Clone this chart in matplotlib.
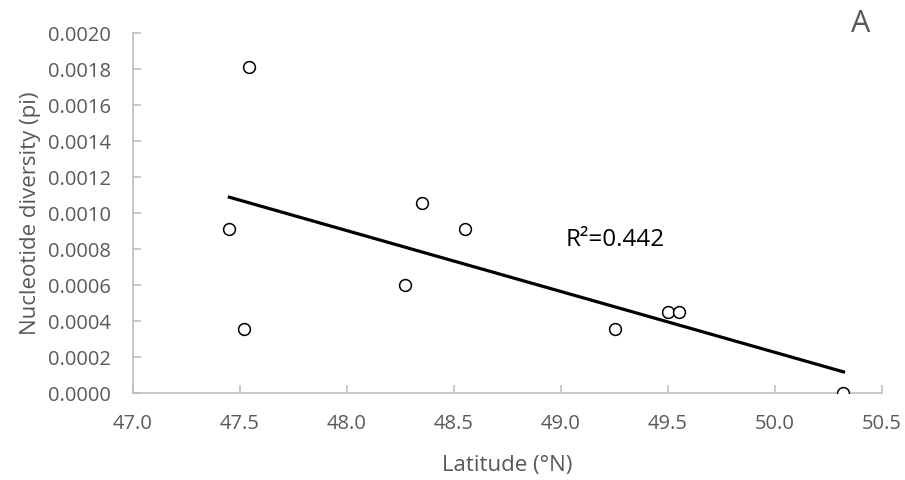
import numpy as np
import matplotlib
matplotlib.use('Agg')
import matplotlib.pyplot as plt

# latitude (deg N) and nucleotide diversity
lat = [47.54, 47.45, 47.52, 48.35, 48.55, 48.27, 49.25, 49.50, 49.55, 50.32]
pi = [0.00181, 0.00091, 0.000355, 0.001055, 0.00091, 0.0006, 0.000355, 0.00045, 0.00045, 0.0]
xticks = [47.0, 47.5, 48.0, 48.5, 49.0, 49.5, 50.0, 50.5]
yticks = [0.0000, 0.0002, 0.0004, 0.0006, 0.0008, 0.0010, 0.0012, 0.0014, 0.0016, 0.0018, 0.0020]
r2_text = 'R²=0.442'

plt.rcParams['font.family'] = ['Open Sans', 'DejaVu Sans']
grey = '#595959'

fig = plt.figure(figsize=(9.05, 4.8), dpi=100)
ax = fig.add_axes([0.147, 0.181, 0.8276, 0.75])

ax.plot(lat, pi, 'o', ms=8.5, mfc='white', mec='black', mew=1.1, zorder=3)

# linear trend over the data range
k, b = np.polyfit(lat, pi, 1)
xl = np.array([min(lat), max(lat)])
ax.plot(xl, k*xl+b, color='black', lw=2.3, zorder=2)

ax.set_xlim(47.0, 50.5)
ax.set_ylim(0, 0.002)
ax.set_xticks(xticks)
ax.set_xticklabels(['%.1f' % v for v in xticks])
ax.set_yticks(yticks)
ax.set_yticklabels(['%.4f' % v for v in yticks])

for s in ['top', 'right']:
    ax.spines[s].set_visible(False)
for s in ['left', 'bottom']:
    ax.spines[s].set_color('#bfbfbf')
    ax.spines[s].set_linewidth(1.2)
ax.tick_params(direction='in', length=6, width=1.2, color='#bfbfbf',
               labelcolor=grey, labelsize=14.5)
ax.tick_params(axis='x', pad=15)
ax.tick_params(axis='y', pad=16)

ax.set_xlabel('Latitude (°N)', color=grey, fontsize=16, labelpad=15)
ax.set_ylabel('Nucleotide diversity (pi)', color=grey, fontsize=16, labelpad=5)

ax.text(49.02, 0.00085, r2_text, fontsize=17.5, color='black', va='center')
fig.text(0.951, 0.95, 'A', fontsize=22, color=grey, ha='center', va='center')

fig.savefig('out.png', dpi=100)
